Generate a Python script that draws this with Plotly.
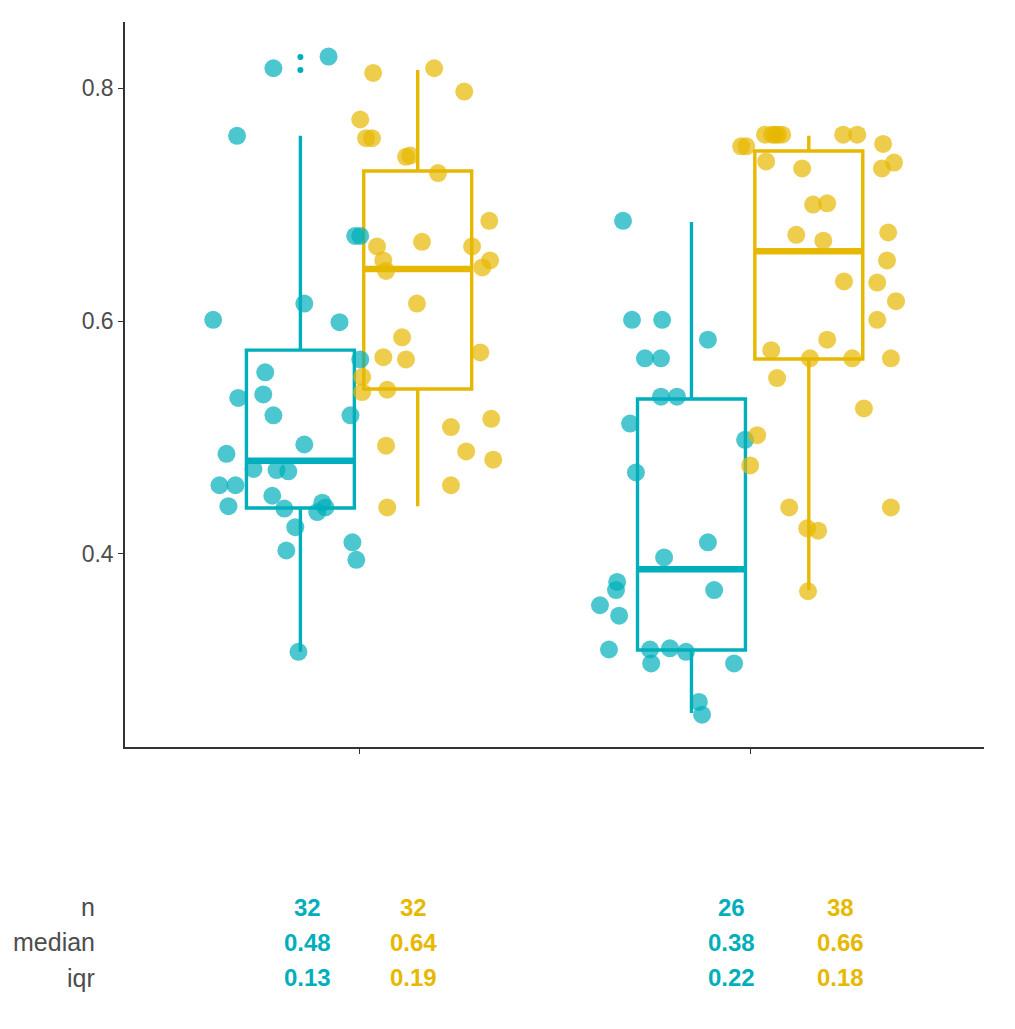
import plotly.graph_objects as go

# ---------------- data ----------------
categories = [1, 2]            # two x categories (unlabelled)
group_names = ["A", "B"]
colors = {"A": "#00AFBB", "B": "#E7B800"}
dodge = 0.15
box_width = 0.276

# jittered points: value and horizontal jitter offset (data units) per group
g1A_y = [0.817, 0.827, 0.759, 0.673, 0.673, 0.615, 0.601, 0.599, 0.567, 0.556, 0.534, 0.537,
         0.519, 0.519, 0.494, 0.486, 0.473, 0.472, 0.471, 0.459, 0.459, 0.441, 0.450, 0.439,
         0.444, 0.436, 0.440, 0.423, 0.403, 0.410, 0.395, 0.316]
g1A_j = [-0.069, 0.072, -0.162, 0.153, 0.140, 0.010, -0.223, 0.100, 0.153, -0.090, -0.159, -0.095,
         -0.069, 0.128, 0.010, -0.189, -0.120, -0.061, -0.031, -0.207, -0.166, -0.184, -0.072, -0.041,
         0.056, 0.043, 0.064, -0.013, -0.036, 0.133, 0.143, -0.005]

g1B_y = [0.813, 0.817, 0.797, 0.773, 0.757, 0.757, 0.741, 0.742, 0.727, 0.686, 0.664, 0.668,
         0.664, 0.652, 0.652, 0.646, 0.643, 0.615, 0.586, 0.573, 0.569, 0.567, 0.552, 0.539,
         0.541, 0.516, 0.509, 0.493, 0.488, 0.481, 0.459, 0.440]
g1B_j = [-0.114, 0.042, 0.119, -0.147, -0.132, -0.117, -0.030, -0.019, 0.052, 0.183, -0.104, 0.011,
         0.139, -0.088, 0.185, 0.165, -0.081, -0.002, -0.040, 0.160, -0.088, -0.030, -0.142, -0.142,
         -0.078, 0.188, 0.085, -0.081, 0.124, 0.193, 0.085, -0.078]

g2A_y = [0.686, 0.601, 0.601, 0.584, 0.568, 0.568, 0.535, 0.535, 0.512, 0.498, 0.470, 0.410,
         0.397, 0.376, 0.369, 0.369, 0.356, 0.347, 0.318, 0.318, 0.319, 0.316, 0.306, 0.306,
         0.273, 0.262]
g2A_j = [-0.175, -0.152, -0.075, 0.042, -0.119, -0.078, -0.078, -0.037, -0.157, 0.137, -0.142, 0.042,
         -0.070, -0.190, -0.193, 0.058, -0.234, -0.185, -0.211, -0.106, -0.055, -0.014, -0.103, 0.109,
         0.019, 0.027]

g2B_y = [0.750, 0.750, 0.760, 0.760, 0.760, 0.760, 0.760, 0.737, 0.760, 0.760, 0.752, 0.731,
         0.736, 0.731, 0.700, 0.701, 0.674, 0.669, 0.676, 0.652, 0.634, 0.633, 0.617, 0.601,
         0.584, 0.575, 0.568, 0.568, 0.568, 0.551, 0.525, 0.502, 0.476, 0.440, 0.440, 0.422,
         0.420, 0.368]
g2B_j = [-0.173, -0.160, -0.112, -0.094, -0.086, -0.079, -0.068, -0.109, 0.088, 0.124, 0.190, 0.187,
         0.218, -0.017, 0.011, 0.047, -0.032, 0.037, 0.203, 0.200, 0.090, 0.175, 0.223, 0.175,
         0.047, -0.096, 0.003, 0.111, 0.210, -0.081, 0.141, -0.132, -0.150, -0.050, 0.210, -0.004,
         0.024, -0.002]

# box statistics in order g1A, g1B, g2A, g2B
box_cat = [1, 1, 2, 2]
box_grp = ["A", "B", "A", "B"]
box_q1 = [0.4395, 0.5416, 0.3176, 0.5674]
box_med = [0.480, 0.6446, 0.387, 0.660]
box_q3 = [0.575, 0.7288, 0.533, 0.746]
box_lo = [0.316, 0.441, 0.2635, 0.369]
box_hi = [0.759, 0.8155, 0.685, 0.759]
outliers = [[0.8155, 0.8266], [], [], []]

# summary table
tab_n = [32, 32, 26, 38]
tab_median = [0.48, 0.64, 0.38, 0.66]
tab_iqr = [0.13, 0.19, 0.22, 0.18]
row_labels = ["n", "median", "iqr"]

points = [(1, "A", g1A_y, g1A_j), (1, "B", g1B_y, g1B_j),
          (2, "A", g2A_y, g2A_j), (2, "B", g2B_y, g2B_j)]

def center(cat, grp):
    return cat + (-dodge if grp == "A" else dodge)

fig = go.Figure()

for i in range(4):
    c = center(box_cat[i], box_grp[i])
    col = colors[box_grp[i]]
    fig.add_trace(go.Box(
        x=[c], q1=[box_q1[i]], median=[box_med[i]], q3=[box_q3[i]],
        lowerfence=[box_lo[i]], upperfence=[box_hi[i]],
        width=box_width, boxpoints=False,
        line=dict(color=col, width=3.4), fillcolor="rgba(255,255,255,0)",
        whiskerwidth=0, showlegend=False, hoverinfo="skip"))
    # thicker median line
    fig.add_trace(go.Scatter(
        x=[c - box_width / 2, c + box_width / 2], y=[box_med[i], box_med[i]],
        mode="lines", line=dict(color=col, width=6.5), showlegend=False, hoverinfo="skip"))
    if outliers[i]:
        fig.add_trace(go.Scatter(
            x=[c] * len(outliers[i]), y=outliers[i], mode="markers",
            marker=dict(color=col, size=6), showlegend=False, hoverinfo="skip"))

for cat, grp, ys, js in points:
    c = center(cat, grp)
    fig.add_trace(go.Scatter(
        x=[c + j for j in js], y=ys, mode="markers",
        marker=dict(color=colors[grp], size=18, opacity=0.7, line=dict(width=0)),
        showlegend=False))

# table annotations
col_x = [0.213, 0.3364, 0.7066, 0.8324]
row_y = [-0.2207, -0.269, -0.3186]
for r, lab in enumerate(row_labels):
    fig.add_annotation(x=-0.0326, y=row_y[r], xref="paper", yref="paper", text=lab,
                       showarrow=False, xanchor="right", yanchor="middle",
                       font=dict(family="Liberation Sans, Arial", size=25, color="#4D4D4D"))
for k in range(4):
    col = colors[box_grp[k]]
    vals = [str(tab_n[k]), f"{tab_median[k]:.2f}", f"{tab_iqr[k]:.2f}"]
    for r, v in enumerate(vals):
        fig.add_annotation(x=col_x[k], y=row_y[r], xref="paper", yref="paper",
                           text=f"<b>{v}</b>", showarrow=False, xanchor="center",
                           yanchor="middle",
                           font=dict(family="Liberation Sans, Arial", size=24, color=col))

fig.update_layout(
    width=1007, height=1021,
    margin=dict(l=117, r=31, t=14, b=282),
    plot_bgcolor="white", paper_bgcolor="white",
    boxmode="overlay",
    xaxis=dict(range=[0.4015, 2.598], tickvals=categories, ticktext=["", ""],
               showline=True, linecolor="#333333", linewidth=1.5, ticks="outside",
               ticklen=5, tickcolor="#333333", showgrid=False, zeroline=False),
    yaxis=dict(range=[0.2343, 0.8567], tickvals=[0.4, 0.6, 0.8],
               ticktext=["0.4", "0.6", "0.8"], showline=True, linecolor="#333333",
               linewidth=1.5, ticks="outside", ticklen=5, tickcolor="#333333",
               showgrid=False, zeroline=False,
               tickfont=dict(family="Liberation Sans, Arial", size=23, color="#4D4D4D")),
)

fig.write_html("out.html")
